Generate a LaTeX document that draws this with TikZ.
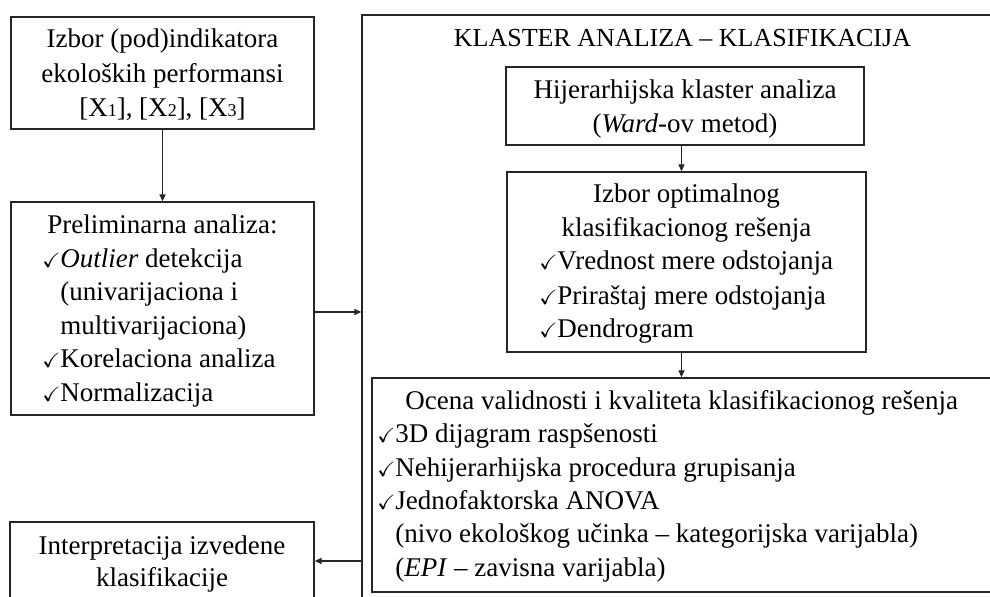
\documentclass[tikz,border=0pt]{standalone}
\usepackage{amssymb}
\usepackage{graphicx}
\usepackage{fontspec}
\setmainfont{Liberation Serif}
\usetikzlibrary{arrows.meta}
\tikzset{
  box/.style={draw=black!85, line width=0.65pt, rectangle, inner sep=0pt},
  txt/.style={anchor=base, inner sep=0pt, font=\fontsize{13.5}{17}\selectfont},
  txtl/.style={txt, anchor=base west},
  chk/.style={anchor=base west, inner sep=0pt, font=\fontsize{11.5}{17}\selectfont},
  arr/.style={draw=black!85, line width=0.65pt, -{Triangle[length=3.5pt,width=3pt]}}
}
\newcommand{\ck}{\scalebox{0.95}[0.9]{$\checkmark$}}
\begin{document}
\begin{tikzpicture}[x=0.5pt,y=-0.5pt]
\useasboundingbox (0,0) rectangle (990,597);
\clip (0,0) rectangle (990,597);
% boxes
\node[box, minimum width=151.5pt, minimum height=56pt] (A) at (162.5,73) {};
\node[box, minimum width=151.5pt, minimum height=106.5pt] (B) at (162.5,308.5) {};
\node[box, minimum width=324pt, minimum height=302.5pt] (outer) at (686,317.5) {};
\node[box, minimum width=179pt, minimum height=39pt] (hijer) at (685,106) {};
\node[box, minimum width=179.5pt, minimum height=90pt] (izbor) at (686.5,262) {};
\node[box, minimum width=309.5pt, minimum height=107pt] (ocena) at (681.5,485) {};
\node[box, minimum width=152pt, minimum height=39pt] (interp) at (162,561) {};
% box A text
\node[txt] (a1) at (162.5,48) {Izbor (pod)indikatora};
\node[txt] (a2) at (162.5,83) {ekoloških performansi};
\node[txt] (a3) at (162.5,117) {[X{\fontsize{9}{10}\selectfont 1}], [X{\fontsize{9}{10}\selectfont 2}], [X{\fontsize{9}{10}\selectfont 3}]};
% box B text
\node[txt] (b1) at (162.5,234) {Preliminarna analiza:};
\node[chk] (b2c) at (42,268) {\ck};
\node[txtl] (b2) at (60,268) {\textit{Outlier} detekcija};
\node[txtl] (b3) at (60,301) {(univarijaciona i};
\node[txtl] (b4) at (60,335) {multivarijaciona)};
\node[chk] (b5c) at (42,368) {\ck};
\node[txtl] (b5) at (60,368) {Korelaciona analiza};
\node[chk] (b6c) at (42,402) {\ck};
\node[txtl] (b6) at (60,402) {Normalizacija};
% title
\node[txt, font=\fontsize{13}{17}\selectfont] (title) at (682.5,47) {KLASTER ANALIZA – KLASIFIKACIJA};
% hijer text
\node[txt] (h1) at (685,99) {Hijerarhijska klaster analiza};
\node[txt] (h2) at (685,133) {(\textit{Ward}-ov metod)};
% izbor text
\node[txt] (i1) at (686.5,203) {Izbor optimalnog};
\node[txt] (i2) at (686.5,237) {klasifikacionog rešenja};
\node[chk] (i3c) at (539,270) {\ck};
\node[txtl] (i3) at (557,270) {Vrednost mere odstojanja};
\node[chk] (i4c) at (539,305) {\ck};
\node[txtl] (i4) at (557,305) {Priraštaj mere odstojanja};
\node[chk] (i5c) at (539,338) {\ck};
\node[txtl] (i5) at (557,338) {Dendrogram};
% ocena text
\node[txtl] (o1) at (405,410) {Ocena validnosti i kvaliteta klasifikacionog rešenja};
\node[chk] (o2c) at (377,443) {\ck};
\node[txtl] (o2) at (395,443) {3D dijagram raspšenosti};
\node[chk] (o3c) at (377,477) {\ck};
\node[txtl] (o3) at (395,477) {Nehijerarhijska procedura grupisanja};
\node[chk] (o4c) at (377,510) {\ck};
\node[txtl] (o4) at (395,510) {Jednofaktorska ANOVA};
\node[txtl] (o5) at (395,543) {(nivo ekološkog učinka – kategorijska varijabla)};
\node[txtl] (o6) at (395,577) {(\textit{EPI} – zavisna varijabla)};
% interp text
\node[txt] (p1) at (162,555) {Interpretacija izvedene};
\node[txt] (p2) at (162,587) {klasifikacije};
% arrows
\draw[arr] (A) -- (B);
\draw[arr] ([yshift=-1.75pt]B.east) -- ([yshift=-1.75pt]B.east -| outer.west);
\draw[arr] (ocena.north |- hijer.south) -- (ocena.north |- izbor.north);
\draw[arr] (ocena.north |- izbor.south) -- (ocena.north);
\draw[arr] (interp.east -| outer.west) -- (interp.east);
\end{tikzpicture}
\end{document}
